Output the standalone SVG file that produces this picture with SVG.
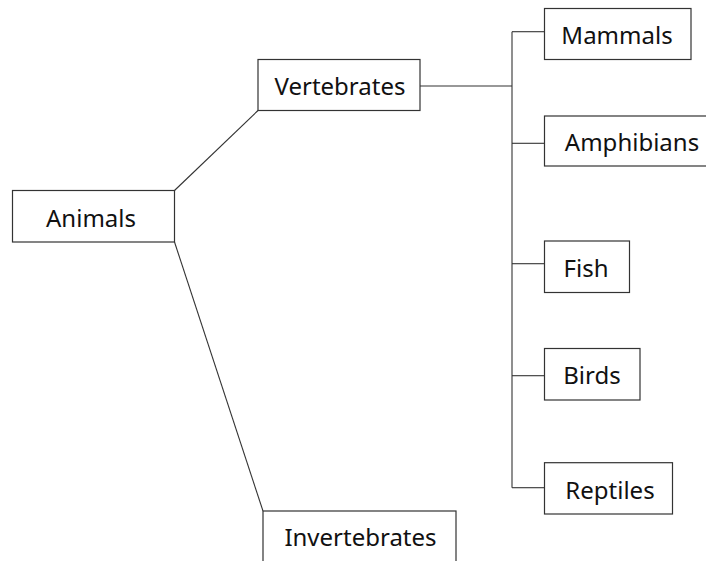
<svg xmlns="http://www.w3.org/2000/svg" width="706" height="561" viewBox="0 0 706 561">
<style>
.box{fill:#fff;stroke:#333;stroke-width:1.2}
.lbl{font-family:"Noto Sans","Open Sans",sans-serif;font-size:24px;fill:#111;text-anchor:middle}
.edge{fill:none;stroke:#333;stroke-width:1.1}
</style>
<rect width="706" height="561" fill="#fff"/>
<g id="connectors">
<path class="edge" d="M174.5,190.5 L258,110.5"/>
<path class="edge" d="M174.5,242 L263,511"/>
<path class="edge" d="M420,86 H512"/>
<path class="edge" d="M512,31.7 V487.7"/>
<path class="edge" d="M512,31.7 H544"/>
<path class="edge" d="M512,143.3 H544"/>
<path class="edge" d="M512,263.7 H544"/>
<path class="edge" d="M512,375.7 H544"/>
<path class="edge" d="M512,487.7 H544"/>
</g>
<g id="animals"><rect class="box" x="12.5" y="190.5" width="162" height="51.5"/><text class="lbl" x="91" y="226.7">Animals</text></g>
<g id="vertebrates"><rect class="box" x="258" y="59.5" width="162" height="51"/><text class="lbl" x="340" y="95">Vertebrates</text></g>
<g id="invertebrates"><rect class="box" x="263" y="511" width="193" height="51"/><text class="lbl" x="360.5" y="546">Invertebrates</text></g>
<g id="mammals"><rect class="box" x="544.5" y="8.5" width="146.5" height="51"/><text class="lbl" x="617" y="44">Mammals</text></g>
<g id="amphibians"><rect class="box" x="544.5" y="116" width="175" height="50"/><text class="lbl" x="632" y="151">Amphibians</text></g>
<g id="fish"><rect class="box" x="544.5" y="241" width="85" height="51.5"/><text class="lbl" x="586" y="277">Fish</text></g>
<g id="birds"><rect class="box" x="544.5" y="348.5" width="95.5" height="51.5"/><text class="lbl" x="592" y="384">Birds</text></g>
<g id="reptiles"><rect class="box" x="544.5" y="462.7" width="128" height="51.3"/><text class="lbl" x="610" y="498.5">Reptiles</text></g>
</svg>
